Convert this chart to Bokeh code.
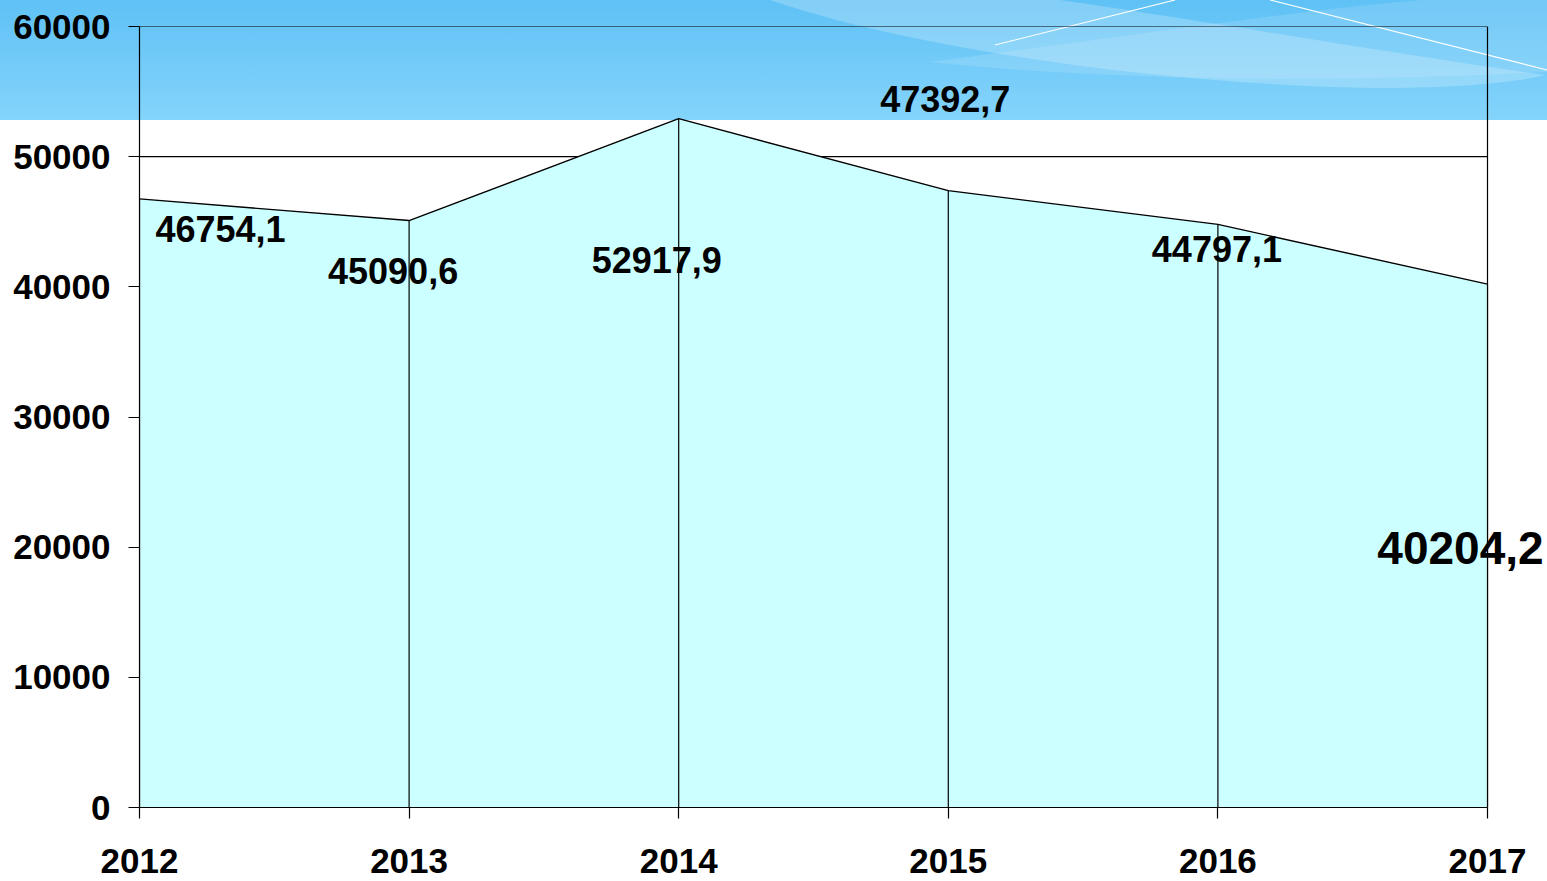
from urllib.parse import quote
from bokeh.plotting import figure
from bokeh.models import ColumnDataSource, Range1d, FixedTicker, GlobalInlineStyleSheet, Label
from bokeh.embed import file_html
from bokeh.resources import INLINE

# ---- data ----
years = ["2012", "2013", "2014", "2015", "2016", "2017"]
values = [46754.1, 45090.6, 52917.9, 47392.7, 44797.1, 40204.2]
y_ticks = [0, 10000, 20000, 30000, 40000, 50000, 60000]

# label placement (pixel offsets from each point, + = up) and sizes - styling only
label_dx = [81, -16, -22, -3, -1, -27]
label_dy = [-30, -50, -141, 92, -25, -264]
label_size = ["36px", "36px", "36px", "36px", "36px", "46px"]

xs = list(range(len(years)))
labels = [f"{v:.1f}".replace(".", ",") for v in values]
last = xs[-1]
y_top = y_ticks[-1]

FONT = "Liberation Sans"

# layout: plot box 1348 px wide, plus 60 px of free frame space on the right for the last label
BOX_W = 1348
EXTRA_R = 60
x_end = last + EXTRA_R * last / BOX_W

# decorative slide banner behind the chart (page background)
svg = (
    "<svg xmlns='http://www.w3.org/2000/svg' width='1547' height='120' viewBox='0 0 1547 120'>"
    "<path d='M770,0 C900,45 1150,85 1380,88 C1460,88 1520,82 1545,75 C1400,55 1200,20 1060,0 Z' fill='white' fill-opacity='0.22'/>"
    "<path d='M930,62 C1100,40 1300,10 1420,0 L1547,0 L1547,72 C1400,80 1150,85 930,62 Z' fill='white' fill-opacity='0.13'/>"
    "<path d='M995,45 L1175,0' stroke='white' stroke-width='1.2'/>"
    "<path d='M1270,0 L1547,70' stroke='white' stroke-width='1.2'/>"
    "</svg>"
)
css = (
    "html{background:url(\"data:image/svg+xml;charset=utf-8," + quote(svg) + "\") no-repeat 0 0 / 1547px 120px,"
    "linear-gradient(to bottom,#5fc1f5 0px,#84d4fb 120px) no-repeat 0 0 / 100% 120px,#ffffff;}"
    "body{background:transparent;}"
)

src = ColumnDataSource(dict(x=xs, y=values, zero=[0] * len(xs)))
grid_src = ColumnDataSource(dict(y=y_ticks, x0=[0] * len(y_ticks), x1=[last] * len(y_ticks)))

p = figure(width=1547, height=881, output_backend="svg", toolbar_location=None,
           x_range=Range1d(0, x_end), y_range=Range1d(0, y_top),
           min_border_left=139, min_border_right=0, min_border_top=26, min_border_bottom=74)
p.stylesheets = [GlobalInlineStyleSheet(css=css)]

p.border_fill_color = None
p.background_fill_color = None
p.outline_line_color = None

# horizontal gridlines limited to the plot box (the top one is the box's top edge)
p.segment(x0="x0", y0="y", x1="x1", y1="y", source=grid_src, line_color="black", line_width=1.2)
# right edge of the plot box
p.segment(x0=[last], y0=[0], x1=[last], y1=[y_top], line_color="black", line_width=1.2)

p.varea(x="x", y1="zero", y2="y", source=src, fill_color="#CCFFFF")
p.line(x="x", y="y", source=src, line_color="black", line_width=1.4)
p.segment(x0="x", y0="zero", x1="x", y1="y", source=src, line_color="black", line_width=1.2)

for xi, yi, txt, dx, dy, fs in zip(xs, values, labels, label_dx, label_dy, label_size):
    p.add_layout(Label(x=xi, y=yi, text=txt, x_offset=dx, y_offset=dy,
                       text_font_size=fs, text_font=FONT, text_font_style="bold",
                       text_color="black", text_align="center", text_baseline="middle"))

p.xgrid.grid_line_color = None
p.ygrid.grid_line_color = None

p.yaxis.ticker = FixedTicker(ticks=y_ticks)
p.xaxis.ticker = FixedTicker(ticks=xs)
p.xaxis.bounds = (0, last)
p.xaxis.major_label_overrides = {i: y for i, y in enumerate(years)}

for ax in (p.xaxis[0], p.yaxis[0]):
    ax.axis_line_color = "black"
    ax.axis_line_width = 1.2
    ax.major_tick_line_color = "black"
    ax.major_tick_line_width = 1.2
    ax.major_tick_out = 11
    ax.major_tick_in = 0
    ax.minor_tick_line_color = None
    ax.major_label_text_font = FONT
    ax.major_label_text_font_style = "bold"
    ax.major_label_text_color = "black"

p.yaxis.major_label_text_font_size = "35px"
p.yaxis.major_label_standoff = 18
p.xaxis.major_label_text_font_size = "35px"
p.xaxis.major_label_standoff = 30

open("out.html", "w").write(file_html(p, INLINE))
